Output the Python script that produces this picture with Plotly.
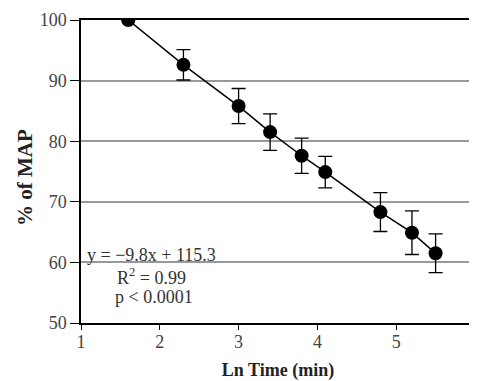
import plotly.graph_objects as go

ln_time = [1.6, 2.3, 3.0, 3.4, 3.8, 4.1, 4.8, 5.2, 5.5]
pct_map = [100.0, 92.6, 85.8, 81.5, 77.6, 74.9, 68.3, 64.9, 61.5]
err = [0.0, 2.5, 2.9, 3.0, 2.9, 2.6, 3.2, 3.6, 3.2]

x_ticks = [1, 2, 3, 4, 5, 6]
y_ticks = [50, 60, 70, 80, 90, 100]

FONT = "Liberation Serif, Times New Roman, serif"

fig = go.Figure()
fig.add_trace(go.Scatter(
    x=ln_time, y=pct_map, mode="lines+markers",
    line=dict(color="black", width=1.5),
    marker=dict(color="black", size=14),
    error_y=dict(type="data", array=err, visible=True, color="black", thickness=1.3, width=7),
    showlegend=False,
))

fig.update_layout(
    width=469, height=373,
    margin=dict(l=73, r=2, t=12, b=58),
    paper_bgcolor="white", plot_bgcolor="white",
    font=dict(family=FONT, size=18, color="#444"),
    xaxis=dict(
        range=[1, 6], tickvals=x_ticks, showgrid=False, zeroline=False, automargin=False,
        showline=True, linecolor="black", linewidth=1.5, mirror=True,
        ticks="outside", ticklen=5, tickcolor="black", ticklabelstandoff=-3,
        tickfont=dict(family=FONT, size=18, color="#444"),
        title=dict(text="<b>Ln Time (min)</b>", font=dict(family=FONT, size=18, color="#222"), standoff=17),
    ),
    yaxis=dict(
        range=[50, 100], tickvals=y_ticks, showgrid=True, gridcolor="#999", gridwidth=2,
        zeroline=False, showline=True, linecolor="black", linewidth=1.5, mirror=True, automargin=False,
        ticks="outside", ticklen=9, tickcolor="black",
        tickfont=dict(family=FONT, size=18, color="#444"),
    ),
)

fig.add_annotation(x=-0.142, y=0.4785, xref="paper", yref="paper", text="<b>% of MAP</b>",
                   textangle=-90, showarrow=False, xanchor="center", yanchor="middle",
                   font=dict(family=FONT, size=21, color="#222"))
fig.add_annotation(x=1.045, y=61.2, xref="x", yref="y", text="y = \u22129.8x + 115.3",
                   showarrow=False, xanchor="left", yanchor="middle",
                   font=dict(family=FONT, size=18, color="#333"))
fig.add_annotation(x=1.9, y=57.6, xref="x", yref="y", text="R<sup>2</sup> = 0.99",
                   showarrow=False, xanchor="center", yanchor="middle",
                   font=dict(family=FONT, size=18, color="#333"))
fig.add_annotation(x=1.92, y=54.3, xref="x", yref="y", text="p < 0.0001",
                   showarrow=False, xanchor="center", yanchor="middle",
                   font=dict(family=FONT, size=18, color="#333"))

fig.write_html("out.html")
